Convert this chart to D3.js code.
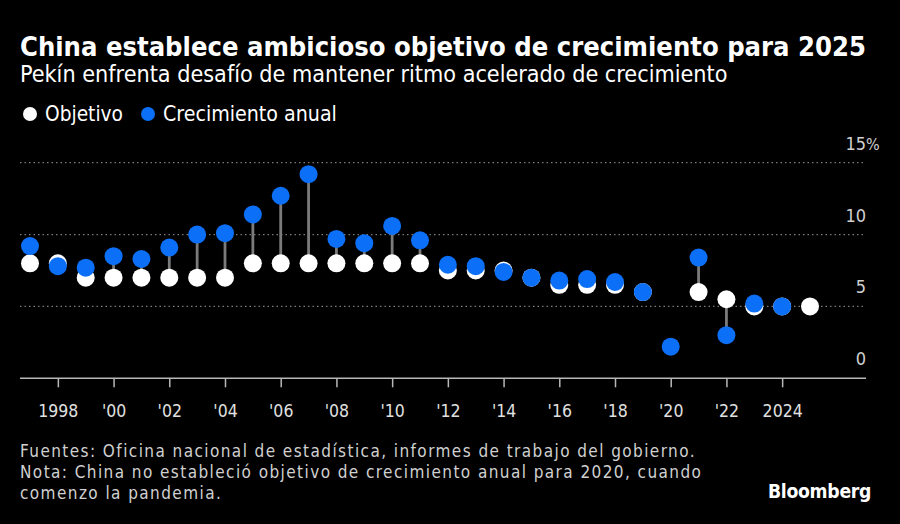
<!DOCTYPE html>
<html><head><meta charset="utf-8">
<script src="https://cdn.jsdelivr.net/npm/d3@7"></script>
<style>
html,body{margin:0;padding:0;background:#000;}
svg{display:block;}
text{font-family:"DejaVu Sans Condensed","DejaVu Sans",sans-serif;}
</style></head>
<body>
<svg id="c" width="900" height="524"></svg>
<script>
const years = [1997,1998,1999,2000,2001,2002,2003,2004,2005,2006,2007,2008,2009,2010,2011,2012,2013,2014,2015,2016,2017,2018,2019,2020,2021,2022,2023,2024,2025];
const objetivo = [8,8,7,7,7,7,7,7,8,8,8,8,8,8,8,7.5,7.5,7.5,7,6.5,6.5,6.5,6,null,6,5.5,5,5,5];
const crecimiento = [9.2,7.8,7.7,8.5,8.3,9.1,10.0,10.1,11.4,12.7,14.2,9.7,9.4,10.6,9.6,7.9,7.8,7.4,7.0,6.8,6.9,6.7,6.0,2.2,8.4,3.0,5.2,5.0,null];
const yTicks = [0,5,10,15];
const xTicks = [1998,2000,2002,2004,2006,2008,2010,2012,2014,2016,2018,2020,2022,2024];
const xTickLabels = ["1998","'00","'02","'04","'06","'08","'10","'12","'14","'16","'18","'20","'22","2024"];

const svg = d3.select("#c");
const BLUE = "#0b6ff7";

function fit(sel, w){
  const n = sel.node();
  let fs = parseFloat(sel.attr("font-size"));
  const len = n.getComputedTextLength();
  sel.attr("font-size", (fs*w/len).toFixed(2));
}
function spaceFit(sel, w){
  const n = sel.node();
  const len = n.getComputedTextLength();
  const ls = (w-len)/sel.text().length;
  sel.attr("letter-spacing", ls.toFixed(3));
  return ls;
}

// titles
fit(svg.append("text").attr("x",20).attr("y",56).attr("fill","#fff").attr("font-weight","bold").attr("font-size",25)
  .text("China establece ambicioso objetivo de crecimiento para 2025"), 846);
fit(svg.append("text").attr("x",20).attr("y",82).attr("fill","#fff").attr("font-size",20)
  .text("Pekín enfrenta desafío de mantener ritmo acelerado de crecimiento"), 708);

// legend
svg.append("circle").attr("cx",30).attr("cy",114).attr("r",7).attr("fill","#fff");
fit(svg.append("text").attr("x",45).attr("y",121).attr("fill","#fff").attr("font-size",19).text("Objetivo"),78);
svg.append("circle").attr("cx",148).attr("cy",114).attr("r",7).attr("fill",BLUE);
fit(svg.append("text").attr("x",163).attr("y",121).attr("fill","#fff").attr("font-size",19).text("Crecimiento anual"),174);

const x = d3.scaleLinear().domain([1997,2025]).range([30,810]);
const y = d3.scaleLinear().domain([0,15]).range([378.3,162.7]);

// gridlines
svg.append("g").selectAll("line").data(yTicks.filter(d=>d>0)).join("line")
  .attr("x1",20).attr("x2",866).attr("y1",d=>y(d)).attr("y2",d=>y(d))
  .attr("stroke","#7a7a7a").attr("stroke-width",1.3).attr("stroke-dasharray","1.5,3");

// y labels
const yl = svg.append("g");
yTicks.forEach(t=>{
  yl.append("text").attr("x",866).attr("y",y(t)-13).attr("text-anchor","end")
    .attr("fill","#d0d0d0").attr("font-size",18).text(t);
  if(t===15) yl.append("text").attr("x",866).attr("y",y(t)-13).attr("fill","#d0d0d0").attr("font-size",16).text("%");
});

// x axis
const xAxis = d3.axisBottom(x).tickValues(xTicks).tickSize(9).tickFormat((d,i)=>xTickLabels[i]);
const gx = svg.append("g").attr("transform",`translate(0,${y(0)})`).call(xAxis);
gx.select(".domain").remove();
gx.selectAll(".tick line").attr("stroke","#b8b8b8").attr("stroke-width",1.5);
gx.selectAll(".tick text").attr("fill","#e0e0e0").attr("font-size",17.5).attr("dy","1.55em")
  .attr("font-family",'"DejaVu Sans Condensed","DejaVu Sans",sans-serif');
svg.append("line").attr("x1",20).attr("x2",866).attr("y1",y(0)).attr("y2",y(0)).attr("stroke","#b8b8b8").attr("stroke-width",1.5);

// stems
const data = years.map((yr,i)=>({yr,o:objetivo[i],c:crecimiento[i]}));
svg.append("g").selectAll("line").data(data.filter(d=>d.o!=null&&d.c!=null)).join("line")
  .attr("x1",d=>x(d.yr)).attr("x2",d=>x(d.yr)).attr("y1",d=>y(d.o)).attr("y2",d=>y(d.c))
  .attr("stroke","#7b7b7b").attr("stroke-width",2.8);

// dots
const R = 9;
svg.append("g").selectAll("circle").data(data.filter(d=>d.o!=null)).join("circle")
  .attr("cx",d=>x(d.yr)).attr("cy",d=>y(d.o)).attr("r",R).attr("fill","#fff");
svg.append("g").selectAll("circle").data(data.filter(d=>d.c!=null)).join("circle")
  .attr("cx",d=>x(d.yr)).attr("cy",d=>y(d.c)).attr("r",R).attr("fill",BLUE);

// footnotes
const notes = ["Fuentes: Oficina nacional de estadística, informes de trabajo del gobierno.",
  "Nota: China no estableció objetivo de crecimiento anual para 2020, cuando",
  "comenzo la pandemia."];
const fn = svg.append("g");
const FS = 17;
const f0 = fn.append("text").attr("x",20).attr("y",457).attr("fill","#d0d0d0").attr("font-size",FS).text(notes[0]);
const ls = spaceFit(f0,676);
fn.append("text").attr("x",20).attr("y",478).attr("fill","#d0d0d0").attr("font-size",FS).attr("letter-spacing",ls.toFixed(3)).text(notes[1]);
fn.append("text").attr("x",20).attr("y",499).attr("fill","#d0d0d0").attr("font-size",FS).attr("letter-spacing",ls.toFixed(3)).text(notes[2]);

fit(svg.append("text").attr("x",768).attr("y",498).attr("fill","#fff").attr("font-weight","bold").attr("font-size",18)
  .attr("letter-spacing","-0.3").text("Bloomberg"),103);
</script>
</body></html>
